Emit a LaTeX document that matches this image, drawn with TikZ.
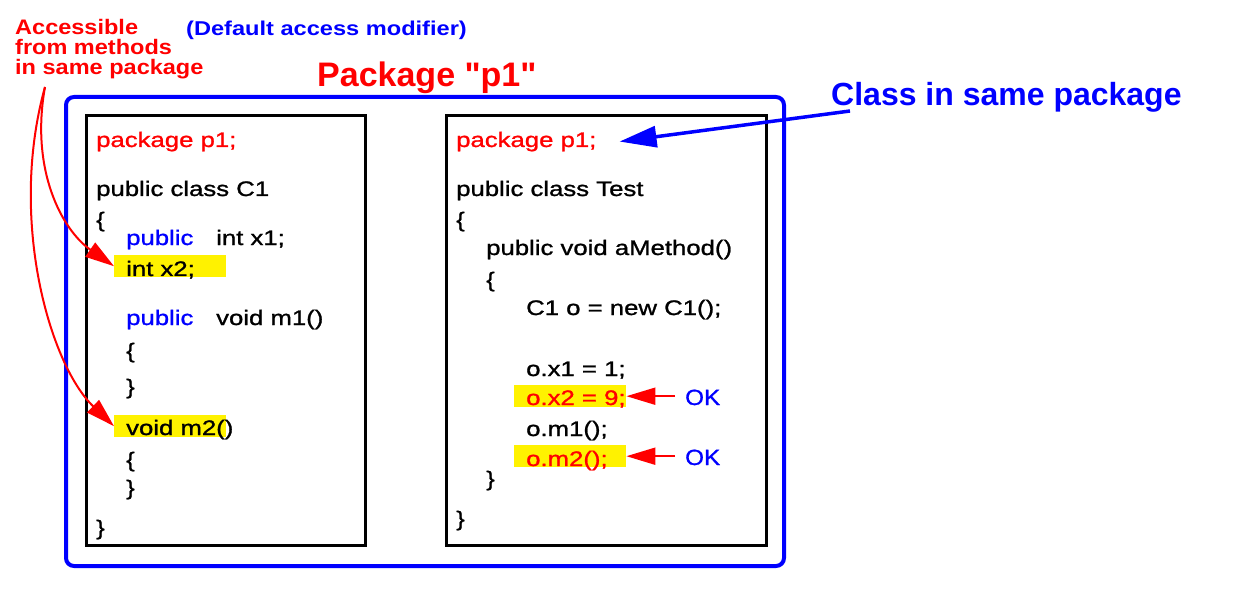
\documentclass[tikz,border=0pt]{standalone}
\usepackage{fontspec}
\setmainfont{Liberation Sans}
\newfontfamily\codef[FakeStretch=1.225,FakeBold=1.2]{Liberation Sans}
\newfontfamily\okf[FakeStretch=1.1,FakeBold=1.2]{Liberation Sans}
\newfontfamily\labf[FakeStretch=1.12]{Liberation Sans}
\newfontfamily\dflf[FakeStretch=1.18]{Liberation Sans}
\newfontfamily\titlef[Ligatures=TeXOff]{Liberation Sans}
\usetikzlibrary{arrows.meta}
\tikzset{
  code/.style={anchor=base west, inner sep=0pt, font={\codef\fontsize{21pt}{25pt}\selectfont}, text=black},
  codered/.style={code, text=red},
  codeblue/.style={code, text=blue},
  hl/.style={fill=yellow, draw=none, inner sep=0pt, anchor=north west, minimum width=112pt, minimum height=22pt},
  lab/.style={anchor=base west, inner sep=0pt, text=red, font={\labf\bfseries\fontsize{21pt}{25pt}\selectfont}},
  oklab/.style={anchor=base west, inner sep=0pt, text=blue, font={\okf\fontsize{22pt}{26pt}\selectfont}},
  classbox/.style={draw=black, line width=3pt},
  pkgbox/.style={draw=blue, line width=4pt, rounded corners=8pt},
  redarr/.style={draw=red, line width=2pt, -{Triangle[length=29pt,width=17pt]}},
  bluearr/.style={draw=blue, line width=3.5pt, -{Triangle[length=37pt,width=21pt]}}
}
\begin{document}
\begin{tikzpicture}[x=1pt,y=-1pt]
\useasboundingbox (0,0) rectangle (1253,596);
% package frame and class boxes
\draw[pkgbox] (66,97) rectangle (784,566);
\draw[classbox] (86,116) rectangle (365,545);
\draw[classbox] (446,116) rectangle (766,545);
% highlights
\node[hl] (hlx2) at (114,255) {};
\node[hl] (hlm2) at (114,415) {};
\node[hl] (hlx2use) at (514,385) {};
\node[hl] (hlm2use) at (514,445) {};
% labels
\node[lab] (acc1) at (15,35) {Accessible};
\node[lab] (acc2) at (15,55) {from methods};
\node[lab] (acc3) at (15,75) {in same package};
\node[anchor=base west, inner sep=0pt, text=blue, font={\dflf\bfseries\fontsize{20pt}{24pt}\selectfont}] (dflt) at (186,36) {(Default access modifier)};
\node[anchor=base west, inner sep=0pt, text=red, font={\titlef\bfseries\fontsize{34pt}{40pt}\selectfont}] (title) at (317,87) {Package "p1"};
\node[anchor=base west, inner sep=0pt, text=blue, font={\titlef\bfseries\fontsize{32pt}{38pt}\selectfont}] (cls) at (831,106) {Class in same package};
% left class
\node[codered] (pkgL) at (96,147) {package p1;};
\node[code] (clsC1) at (96,196) {public class C1};
\node[code] (obL) at (96,227) {\{};
\node[codeblue] (pubx1) at (126,245) {public};
\node[code] (intx1) at (216,245) {int x1;};
\node[code] (intx2) at (126,276) {int x2;};
\node[codeblue] (pubm1) at (126,325) {public};
\node[code] (voidm1) at (216,325) {void m1()};
\node[code] (ob1) at (126,358) {\{};
\node[code] (cb1) at (126,394) {\}};
\node[code] (voidm2) at (126,435) {void m2()};
\node[code] (ob2) at (126,467) {\{};
\node[code] (cb2) at (126,495) {\}};
\node[code] (cbL) at (96,535) {\}};
% right class
\node[codered] (pkgR) at (456,147) {package p1;};
\node[code] (clsT) at (456,196) {public class Test};
\node[code] (obR) at (456,227) {\{};
\node[code] (ameth) at (486,255) {public void aMethod()};
\node[code] (ob3) at (486,287) {\{};
\node[code] (newc) at (526,315) {C1 o = new C1();};
\node[code] (ox1) at (526,376) {o.x1 = 1;};
\node[codered] (ox2) at (526,405) {o.x2 = 9;};
\node[code] (om1) at (526,436) {o.m1();};
\node[codered] (om2) at (526,466) {o.m2();};
\node[code] (cb3) at (486,486) {\}};
\node[code] (cbR) at (456,526) {\}};
\node[oklab] (ok1) at (685,405) {OK};
\node[oklab] (ok2) at (685,465) {OK};
% connectors
\coordinate (accfoot) at (45,87);
\coordinate (clsfoot) at (850,111);
\draw[redarr] (accfoot) .. controls (30,170) and (62,230) .. (hlx2.west);
\draw[redarr] (accfoot) .. controls (8,220) and (50,365) .. (hlm2.west);
\draw[redarr] ([xshift=-10pt]ok1.west |- hlx2use.east) -- (hlx2use.east);
\draw[redarr] ([xshift=-10pt]ok2.west |- hlm2use.east) -- (hlm2use.east);
\draw[bluearr] (clsfoot) -- ([xshift=23pt]pkgR.east);
\end{tikzpicture}
\end{document}
